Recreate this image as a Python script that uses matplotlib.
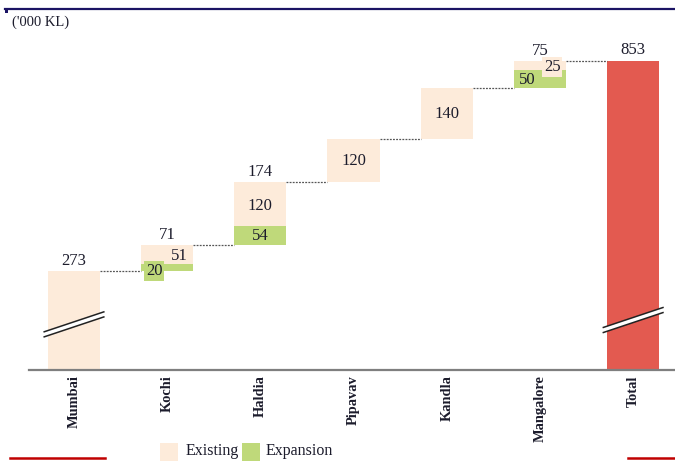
import matplotlib
matplotlib.use("Agg")
import matplotlib.pyplot as plt
from matplotlib.patches import Rectangle, Polygon
from matplotlib.lines import Line2D

categories = ['Mumbai', 'Kochi', 'Haldia', 'Pipavav', 'Kandla', 'Mangalore', 'Total']
existing = [273, 51, 120, 120, 140, 25]
expansion = [0, 20, 54, 0, 0, 50]
total_value = 853

C_EXIST = '#FDEBDA'
C_EXP = '#BFD97A'
C_TOTAL = '#E35A50'
C_TEXT = '#1c1c2c'
SERIF = ['Liberation Serif', 'DejaVu Serif']

W, H = 675, 461
fig = plt.figure(figsize=(W / 100, H / 100), dpi=100)
fig.patch.set_facecolor('white')

def fx(px):
    return px / W

def fy(py):
    return 1 - py / H

# axes: left 29px, right 675px, top 40px, baseline 370px
ax = fig.add_axes([fx(29), fy(370), fx(675) - fx(29), fy(40) - fy(370)])
ax.set_xlim(-0.483, 6.449)
ax.set_ylim(0, 911)
for s in ['top', 'right', 'left']:
    ax.spines[s].set_visible(False)
ax.spines['bottom'].set_color('#7f7f7f')
ax.spines['bottom'].set_linewidth(1.6)
ax.set_yticks([])
ax.set_xticks(range(len(categories)))
ax.set_xticklabels(categories, rotation=90, fontfamily=SERIF, fontweight='bold',
                   fontsize=10.4, color=C_TEXT, va='top')
ax.tick_params(axis='x', length=0, pad=4)

bw = 0.56
base = 0
tops = []
for i in range(len(existing)):
    exp_v = expansion[i]
    ex_v = existing[i]
    if exp_v:
        ax.bar(i, exp_v, bottom=base, width=bw, color=C_EXP, zorder=2)
    ax.bar(i, ex_v, bottom=base + exp_v, width=bw, color=C_EXIST, zorder=1)
    base += exp_v + ex_v
    tops.append(base)
ax.bar(6, total_value, width=bw, color=C_TOTAL, zorder=1)

# connectors
levels = tops
for i in range(len(levels)):
    ax.plot([i + bw / 2, i + 1 - bw / 2], [levels[i], levels[i]], ls=(0, (1.5, 1)),
            color='#555555', lw=0.9, zorder=1)

tk = dict(fontfamily=SERIF, fontsize=12, color=C_TEXT, ha='center', va='center', zorder=5)
# total labels above bars
for i in range(len(existing)):
    t = existing[i] + expansion[i]
    if i == 0 or expansion[i]:
        ax.annotate(str(t), (i, tops[i]), xytext=(0, 7.5), textcoords='offset points', **tk)
ax.annotate(str(total_value), (6, total_value), xytext=(0, 8), textcoords='offset points', **tk)

# segment labels
starts = [0] + tops[:-1]
# Haldia
ax.text(2, starts[2] + expansion[2] / 2 - 2, str(expansion[2]), **tk)
ax.text(2, starts[2] + expansion[2] + existing[2] / 2 - 6, str(existing[2]), **tk)
# Pipavav, Kandla
for i in (3, 4):
    ax.text(i, starts[i] + existing[i] / 2, str(existing[i]), **tk)
# Kochi
ax.text(1 - 0.14, starts[1] + 1, str(expansion[1]),
        bbox=dict(boxstyle='square,pad=0.12', fc=C_EXP, ec='none'), **tk)
ax.text(1 + 0.13, starts[1] + expansion[1] + 22, str(existing[1]), **tk)
# Mangalore
ax.text(5 - 0.14, starts[5] + 23, str(expansion[5]), **tk)
ax.text(5 + 0.13, starts[5] + expansion[5] + 8, str(existing[5]),
        bbox=dict(boxstyle='square,pad=0.12', fc=C_EXIST, ec='none'), **tk)

# break marks
def brk(x, yc):
    half = 0.32
    rise = 55
    gap = 14
    p1 = (x - half, yc - rise / 2)
    p2 = (x + half, yc + rise / 2)
    poly = Polygon([p1, p2, (p2[0], p2[1] - gap), (p1[0], p1[1] - gap)], closed=True,
                   fc='white', ec='none', zorder=6, clip_on=False)
    ax.add_patch(poly)
    ax.plot([p1[0], p2[0]], [p1[1], p2[1]], color='#222222', lw=1.1, zorder=7, clip_on=False)
    ax.plot([p1[0], p2[0]], [p1[1] - gap, p2[1] - gap], color='#222222', lw=1.1, zorder=7,
            clip_on=False)

brk(0, 133)
brk(6, 145)

# header line and unit
fig.add_artist(Line2D([fx(5), fx(675)], [fy(9), fy(9)], color='#1B1464', lw=1.6))
fig.add_artist(Rectangle((fx(5), fy(13)), fx(3), fy(9) - fy(13), color='#1B1464', lw=0))
fig.text(fx(12), fy(22), "('000 KL)", fontfamily=SERIF, fontsize=10.5, color=C_TEXT,
         va='center', ha='left')

# legend
fig.add_artist(Rectangle((fx(160), fy(463)), fx(18), fy(443) - fy(463), color=C_EXIST, lw=0))
fig.text(fx(186), fy(451), 'Existing', fontfamily=SERIF, fontsize=11.5, color=C_TEXT,
         va='center', ha='left')
fig.add_artist(Rectangle((fx(242), fy(463)), fx(18), fy(443) - fy(463), color=C_EXP, lw=0))
fig.text(fx(266), fy(451), 'Expansion', fontfamily=SERIF, fontsize=11.5, color=C_TEXT,
         va='center', ha='left')

# footer red lines
fig.add_artist(Line2D([fx(10), fx(105)], [fy(458), fy(458)], color='#C00000', lw=1.8))
fig.add_artist(Line2D([fx(628), fx(675)], [fy(458), fy(458)], color='#C00000', lw=1.8))

fig.savefig('out.png', dpi=100)
